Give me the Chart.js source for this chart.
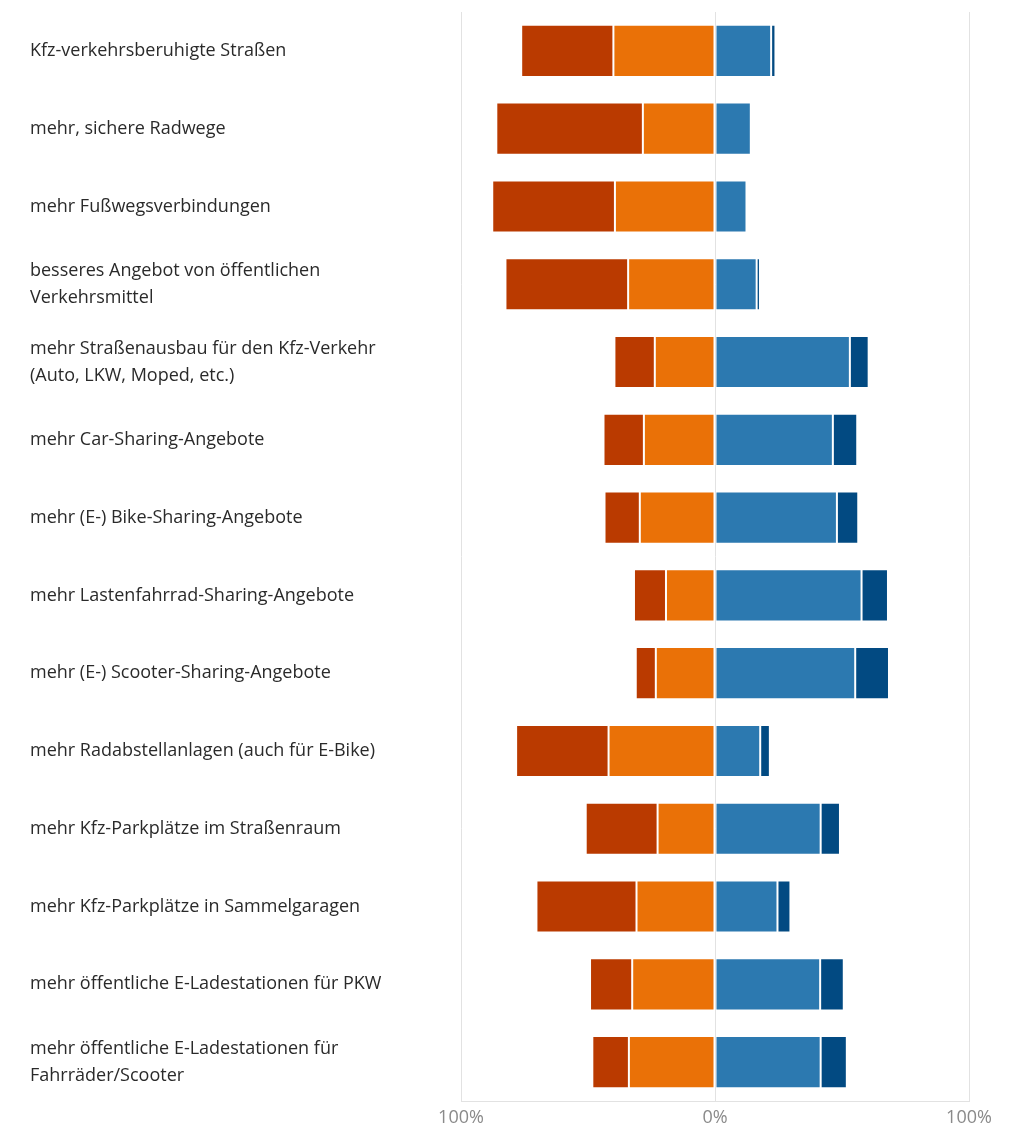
<!DOCTYPE html>
<html>
<head>
<meta charset="utf-8">
<script src="https://cdn.jsdelivr.net/npm/chart.js@4/dist/chart.umd.min.js"></script>
<style>
  html, body { margin: 0; padding: 0; background: #fff; }
  #wrap { width: 1012px; height: 1127px; position: relative; }
</style>
</head>
<body>
<div id="wrap"><canvas id="chart"></canvas></div>
<script>
const categories = [
  "Kfz-verkehrsberuhigte Straßen",
  "mehr, sichere Radwege",
  "mehr Fußwegsverbindungen",
  ["besseres Angebot von öffentlichen", "Verkehrsmittel"],
  ["mehr Straßenausbau für den Kfz-Verkehr", "(Auto, LKW, Moped, etc.)"],
  "mehr Car-Sharing-Angebote",
  "mehr (E-) Bike-Sharing-Angebote",
  "mehr Lastenfahrrad-Sharing-Angebote",
  "mehr (E-) Scooter-Sharing-Angebote",
  "mehr Radabstellanlagen (auch für E-Bike)",
  "mehr Kfz-Parkplätze im Straßenraum",
  "mehr Kfz-Parkplätze in Sammelgaragen",
  "mehr öffentliche E-Ladestationen für PKW",
  ["mehr öffentliche E-Ladestationen für", "Fahrräder/Scooter"]
]

// shares in percent; negative side drawn to the left of 0
const eherNicht = [40.0, 28.4, 39.4, 34.2, 23.7, 28.0, 29.6, 19.3, 23.3, 41.9, 22.6, 30.9, 32.6, 33.9]
const garNicht = [36.3, 57.7, 48.3, 48.3, 15.9, 15.9, 13.9, 12.6, 7.9, 36.4, 28.3, 39.4, 16.6, 14.4]
const eherJa = [22.1, 14.1, 12.4, 16.4, 53.1, 46.4, 48.0, 57.7, 55.2, 17.8, 41.6, 24.6, 41.4, 41.6]
const vollJa = [1.7, 0, 0, 1.3, 7.4, 9.6, 8.4, 10.4, 13.3, 3.8, 7.6, 5.1, 9.3, 10.3]

const xTicks = [-100, 0, 100]

const barStyle = {
  borderWidth: 1,
  borderColor: "rgba(255,255,255,0.18)",
  borderSkipped: false,
  barPercentage: 0.67,
  categoryPercentage: 1
}

const ctx = document.getElementById('chart')
new Chart(ctx, {
  type: 'bar',
  data: {
    labels: categories,
    datasets: [
      { label: "eher nicht", data: eherNicht.map(v => -v), backgroundColor: "#ea7107", ...barStyle },
      { label: "gar nicht", data: garNicht.map(v => -v), backgroundColor: "#ba3a00", ...barStyle },
      { label: "eher ja", data: eherJa, backgroundColor: "#2c79b0", ...barStyle },
      { label: "auf jeden Fall", data: vollJa, backgroundColor: "#024a82", ...barStyle }
    ]
  },
  options: {
    indexAxis: 'y',
    responsive: true,
    maintainAspectRatio: false,
    animation: false,
    layout: { padding: { top: 12, left: 30, right: 43, bottom: 0 } },
    plugins: {
      legend: { display: false },
      tooltip: { enabled: false }
    },
    scales: {
      x: {
        stacked: true,
        min: -100,
        max: 100,
        afterBuildTicks: (scale) => {
          scale.ticks = xTicks.map(v => ({ value: v }))
        },
        afterFit: (scale) => {
          scale.height = 26
          scale.paddingLeft = 0
          scale.paddingRight = 0
        },
        grid: { color: "#e2e2e2", drawTicks: false },
        border: { display: true, color: "#e2e2e2" },
        ticks: {
          padding: 6,
          color: "#8a8a8a",
          font: { family: "'Open Sans', sans-serif", size: 18 },
          callback: (v) => Math.abs(v) + "%"
        }
      },
      y: {
        stacked: true,
        afterFit: (scale) => {
          scale.width = 431
          scale.paddingTop = 0
          scale.paddingBottom = 0
        },
        grid: { display: false },
        border: { display: false },
        ticks: {
          autoSkip: false,
          crossAlign: 'far',
          color: "#2a2a2a",
          font: { family: "'Open Sans', sans-serif", size: 18, lineHeight: 1.5 }
        }
      }
    }
  }
})
</script>
</body>
</html>
